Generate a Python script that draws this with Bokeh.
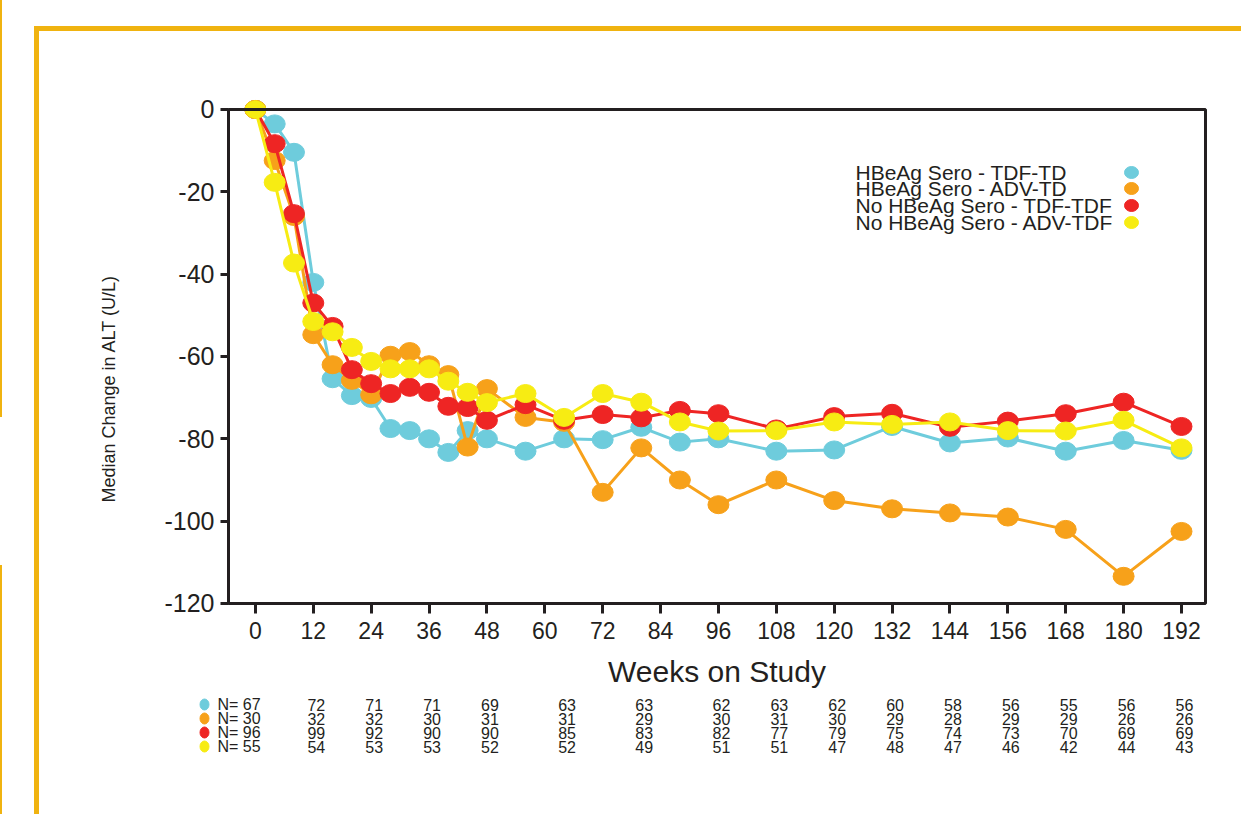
from bokeh.core.properties import value
from bokeh.embed import file_html
from bokeh.layouts import column
from bokeh.models import BoxAnnotation, FixedTicker, Range1d, Title
from bokeh.plotting import figure
from bokeh.resources import INLINE

# ---- data -------------------------------------------------------------
weeks = [0, 4, 8, 12, 16, 20, 24, 28, 32, 36, 40, 44, 48, 56, 64, 72, 80,
         88, 96, 108, 120, 132, 144, 156, 168, 180, 192]

sero_tdf = [0, -3.5, -10.4, -42, -65.4, -69.5, -70.2, -77.5, -78, -80, -83.3,
            -78, -80, -83, -80, -80.2, -77.2, -80.8, -80, -83, -82.7, -77, -81,
            -79.8, -83, -80.4, -82.8]
sero_adv = [0, -12.4, -26, -54.7, -62, -65.8, -69.3, -59.7, -58.8, -62, -64.4,
            -82, -67.8, -74.8, -76, -93, -82.2, -90, -96, -90, -95, -97, -98,
            -99, -102, -113.4, -102.5]
nosero_tdf = [0, -8.3, -25.3, -47, -52.7, -63.2, -66.6, -69, -67.5, -68.7,
              -72.1, -72.4, -75.5, -71.7, -75.5, -74.1, -74.9, -73.1, -73.9,
              -77.6, -74.6, -73.8, -77.2, -75.7, -73.9, -71.1, -77]
nosero_adv = [0, -17.7, -37.3, -51.5, -54, -57.8, -61.2, -63, -63, -63, -66,
              -68.7, -71.2, -69, -74.8, -69, -71.1, -75.9, -78.1, -78, -75.9,
              -76.5, -75.9, -78, -78.1, -75.5, -82.2]

series_names = ["HBeAg Sero - TDF-TD", "HBeAg Sero - ADV-TD",
                "No HBeAg Sero - TDF-TDF", "No HBeAg Sero - ADV-TDF"]
series_colors = ["#6ECCDC", "#F7A11A", "#EE2524", "#F7EC13"]
series_values = [sero_tdf, sero_adv, nosero_tdf, nosero_adv]

# patients at each visit
n_weeks = [0, 12, 24, 36, 48, 64, 80, 96, 108, 120, 132, 144, 156, 168, 180, 192]
n_sero_tdf = [67, 72, 71, 71, 69, 63, 63, 62, 63, 62, 60, 58, 56, 55, 56, 56]
n_sero_adv = [30, 32, 32, 30, 31, 31, 29, 30, 31, 30, 29, 28, 29, 29, 26, 26]
n_nosero_tdf = [96, 99, 92, 90, 90, 85, 83, 82, 77, 79, 75, 74, 73, 70, 69, 69]
n_nosero_adv = [55, 54, 53, 53, 52, 52, 49, 51, 51, 47, 48, 47, 46, 42, 44, 43]
n_rows = [n_sero_tdf, n_sero_adv, n_nosero_tdf, n_nosero_adv]

x_ticks = list(range(0, 193, 12))
y_ticks = list(range(-120, 1, 20))

# ---- geometry ---------------------------------------------------------
W = 1241
H_MAIN, H_TABLE = 690, 124
BL, BR, BT, BB = 225, 33, 91, 84
X0, X1 = -6.2, 197.6
Y0, Y1 = -120.73, 4.37
FW, FH = W - BL - BR, H_MAIN - BT - BB
KX, KY = FW / (X1 - X0), FH / (Y1 - Y0)


def sx(px):
    """canvas pixel column -> week value"""
    return X0 + (px - BL) / KX


def sy(py):
    """canvas pixel row -> y value of the main chart"""
    return Y1 - (py - BT) / KY


FONT = "Liberation Sans"
INK = "#231F20"
GOLD = "#F0B310"

# ---- main chart -------------------------------------------------------
p = figure(width=W, height=H_MAIN, x_range=Range1d(X0, X1),
           y_range=Range1d(Y0, Y1), output_backend="svg",
           toolbar_location=None, min_border_left=BL, min_border_right=BR,
           min_border_top=BT, min_border_bottom=BB)
p.background_fill_color = None
p.border_fill_color = None
p.outline_line_color = None
p.grid.visible = False
p.frame_align = False

p.xaxis.ticker = FixedTicker(ticks=x_ticks)
p.yaxis.ticker = FixedTicker(ticks=y_ticks)
p.yaxis.major_label_overrides = {t: str(t) for t in y_ticks}
for ax in (p.xaxis[0], p.yaxis[0]):
    ax.axis_line_color = None
    ax.major_tick_line_color = INK
    ax.major_tick_line_width = 3
    ax.minor_tick_line_color = None
    ax.major_label_text_font = FONT
    ax.major_label_text_color = INK
p.xaxis.major_tick_in = 3
p.xaxis.major_tick_out = 7
p.xaxis.major_label_standoff = 8
p.xaxis.major_label_text_font_size = "23px"
p.xaxis.axis_label = "Weeks on Study"
p.xaxis.axis_label_text_font = FONT
p.xaxis.axis_label_text_font_style = "normal"
p.xaxis.axis_label_text_font_size = "30px"
p.xaxis.axis_label_text_color = INK
p.xaxis.axis_label_standoff = 13
p.yaxis.major_tick_in = 3
p.yaxis.major_tick_out = 5
p.yaxis.major_label_standoff = 6
p.yaxis.major_label_text_font_size = "25px"

p.add_layout(Title(text="Median Change in ALT (U/L)", text_font=FONT,
                   text_font_size="18px", text_font_style="normal",
                   text_color=INK, align="left", vertical_align="top",
                   offset=104, standoff=82), "left")

# plot box
p.add_layout(BoxAnnotation(left=sx(228), right=sx(1205), top=0, bottom=-120,
                           fill_color=None, line_color=INK, line_alpha=1,
                           line_width=3))

for vals, col in zip(series_values, series_colors):
    p.line(weeks, vals, line_color=col, line_width=3)
    p.ellipse(weeks, vals, width=21, height=18, width_units="screen",
              height_units="screen", fill_color=col, line_color=col)

# legend, marker to the right of each entry
leg_rows = [172, 188, 205, 222]
for name, col, ry in zip(series_names, series_colors, leg_rows):
    p.text([sx(855)], [sy(ry)], text=[name], text_font=value(FONT),
           text_font_size="21px", text_color=INK, text_baseline="middle",
           text_align="left")
    p.ellipse([sx(1131)], [sy(ry)], width=14, height=12, width_units="screen",
              height_units="screen", fill_color=col, line_color=col)

# ---- N table below the chart ------------------------------------------
TL, TR = 190, 20
ROW_PX = 14
t_x0 = sx(TL)
t_x1 = sx(W - TR)
t_top = -1.0
t_bottom = t_top + H_TABLE / ROW_PX
t = figure(width=W, height=H_TABLE, x_range=Range1d(t_x0, t_x1),
           y_range=Range1d(t_bottom, t_top), output_backend="svg",
           toolbar_location=None, x_axis_location=None, y_axis_location=None,
           min_border_left=TL, min_border_right=TR, min_border_top=0,
           min_border_bottom=0)
t.background_fill_color = None
t.border_fill_color = None
t.outline_line_color = None
t.grid.visible = False
t.frame_align = False

for i, (row, col) in enumerate(zip(n_rows, series_colors)):
    t.ellipse([sx(204)], [i], width=9, height=11, width_units="screen",
              height_units="screen", fill_color=col, line_color=col)
    t.text([sx(217)], [i], text=[f"N= {row[0]}"], text_font=value(FONT),
           text_font_size="16px", text_color=INK, text_align="left",
           text_baseline="middle")
    t.text(n_weeks[1:], [i] * (len(n_weeks) - 1), text=[str(n) for n in row[1:]],
           text_font=value(FONT), text_font_size="16px", text_color=INK,
           text_align="center", text_baseline="middle", x_offset=3)

# ---- gold frame drawn as page background --------------------------------
bars = [(34, 26, 1207, 5), (34, 26, 5, 788), (0, 0, 2, 417), (0, 565, 2, 249)]
frame_style = {
    "background-color": "white",
    "background-image": ", ".join([f"linear-gradient({GOLD}, {GOLD})"] * len(bars)),
    "background-size": ", ".join(f"{w}px {h}px" for _, _, w, h in bars),
    "background-position": ", ".join(f"{x}px {y}px" for x, y, _, _ in bars),
    "background-repeat": "no-repeat",
}
page = column(p, t, spacing=0, styles=frame_style)

open("out.html", "w").write(file_html(page, INLINE))
